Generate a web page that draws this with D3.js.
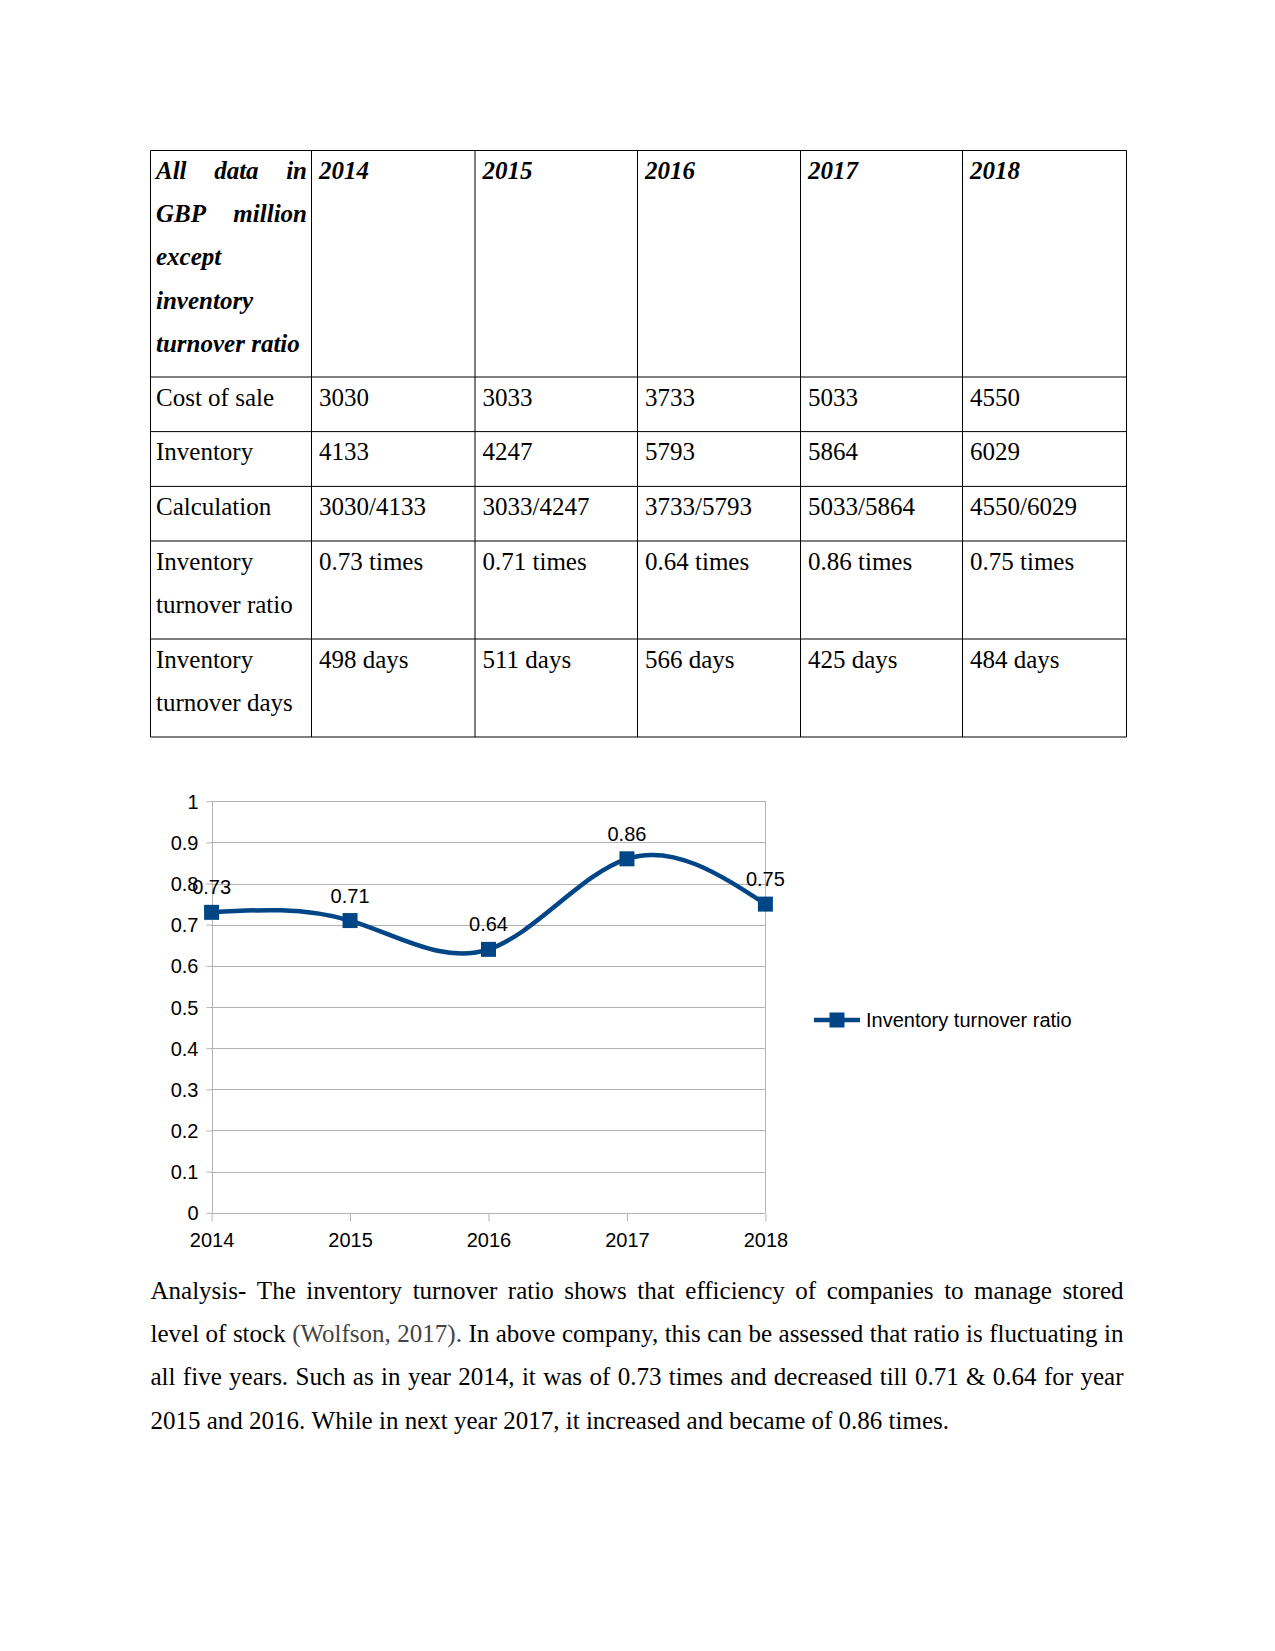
<!DOCTYPE html>
<html><head><meta charset="utf-8">
<script src="https://cdn.jsdelivr.net/npm/d3@7"></script>
<style>html,body{margin:0;padding:0;background:#fff}svg{display:block}</style>
</head><body>
<svg id="page" width="1275" height="1651"></svg>
<script>
const years = ["2014","2015","2016","2017","2018"];
const costOfSale = ["3030","3033","3733","5033","4550"];
const inventory = ["4133","4247","5793","5864","6029"];
const calculation = ["3030/4133","3033/4247","3733/5793","5033/5864","4550/6029"];
const ratioText = ["0.73 times","0.71 times","0.64 times","0.86 times","0.75 times"];
const daysText = ["498 days","511 days","566 days","425 days","484 days"];
const ratio = [0.73, 0.71, 0.64, 0.86, 0.75];
const yTicks = [0,0.1,0.2,0.3,0.4,0.5,0.6,0.7,0.8,0.9,1];
const seriesName = "Inventory turnover ratio";
const headerLines = ["All data in","GBP million","except","inventory","turnover ratio"];
const paragraphLines = [
  "Analysis- The inventory turnover ratio shows that efficiency of companies to manage stored",
  "level of stock (Wolfson, 2017). In above company, this can be assessed that ratio is fluctuating in",
  "all five years. Such as in year 2014, it was of 0.73 times and decreased till 0.71 & 0.64 for year",
  "2015 and 2016. While in next year 2017, it increased and became of 0.86 times."
];

const svg = d3.select("#page");
const serif = "'Liberation Serif','Times New Roman',serif";
const sans = "'Liberation Sans',Arial,sans-serif";

function justify(g, words, x0, width, y, opts) {
  const t = g.append("text").attr("y", y)
    .attr("font-family", serif).attr("font-size", opts.size)
    .attr("font-weight", opts.weight || "normal").attr("font-style", opts.style || "normal")
    .attr("fill", "#000");
  const spans = words.map(w => t.append("tspan").attr("x", x0).attr("y", y).text(w.text).attr("fill", w.color || "#000"));
  const widths = spans.map(s => s.node().getComputedTextLength());
  const total = d3.sum(widths);
  let gap;
  if (opts.justify && words.length > 1) gap = (width - total) / (words.length - 1);
  else gap = opts.size * 0.25;
  let x = x0;
  spans.forEach((s, i) => { s.attr("x", x); x += widths[i] + gap; });
}

// ---------- TABLE ----------
const colX = [150.5, 311.5, 475, 637.5, 800.5, 962.5, 1126.5];
const rowY = [150.5, 377, 431.6, 486.4, 541, 639, 737];
const tg = svg.append("g");
colX.forEach(x => tg.append("line").attr("x1", x).attr("x2", x).attr("y1", rowY[0]).attr("y2", rowY[rowY.length-1]).attr("stroke", "#000").attr("stroke-width", 1));
rowY.forEach(y => tg.append("line").attr("x1", colX[0]).attr("x2", colX[colX.length-1]).attr("y1", y).attr("y2", y).attr("stroke", "#000").attr("stroke-width", 1));

const FS = 25, LH = 43.2, PAD = 5.5, VPAD = 7.5, BASE = 28.5;
headerLines.forEach((ln, i) => {
  const words = ln.split(" ").map(w => ({text: w}));
  justify(tg, words, colX[0] + PAD, colX[1] - colX[0] - 2*PAD + 1, rowY[0] + BASE + i*LH,
    {size: FS, weight: "bold", style: "italic", justify: i < 2});
});
years.forEach((yr, j) => {
  tg.append("text").attr("x", colX[j+1] + VPAD).attr("y", rowY[0] + BASE)
    .attr("font-family", serif).attr("font-size", FS).attr("font-weight", "bold").attr("font-style", "italic").text(yr);
});
const rows = [
  {label: ["Cost of sale"], vals: costOfSale},
  {label: ["Inventory"], vals: inventory},
  {label: ["Calculation"], vals: calculation},
  {label: ["Inventory", "turnover ratio"], vals: ratioText},
  {label: ["Inventory", "turnover days"], vals: daysText}
];
rows.forEach((r, i) => {
  const top = rowY[i+1];
  r.label.forEach((l, k) => tg.append("text").attr("x", colX[0] + PAD).attr("y", top + BASE + k*LH)
    .attr("font-family", serif).attr("font-size", FS).text(l));
  r.vals.forEach((v, j) => tg.append("text").attr("x", colX[j+1] + VPAD).attr("y", top + BASE)
    .attr("font-family", serif).attr("font-size", FS).text(v));
});

// ---------- CHART ----------
const cg = svg.append("g");
const x = d3.scalePoint().domain(years).range([211.6, 765.4]);
const y = d3.scaleLinear().domain([0, 1]).range([1212.8, 801.2]);
const grid = "#b3b3b3";
cg.selectAll(".grid").data(yTicks).join("line")
  .attr("x1", x.range()[0]).attr("x2", x.range()[1])
  .attr("y1", d => Math.round(y(d)) + 0.5).attr("y2", d => Math.round(y(d)) + 0.5)
  .attr("stroke", grid).attr("stroke-width", 1);
[x.range()[0], x.range()[1]].forEach(xx => cg.append("line")
  .attr("x1", Math.round(xx)+0.5).attr("x2", Math.round(xx)+0.5).attr("y1", y(1)).attr("y2", y(0))
  .attr("stroke", grid));
const yAx = d3.axisLeft(y).tickValues(yTicks).tickSize(6).tickPadding(8).tickFormat(d => d3.format("~g")(d));
const yg = cg.append("g").attr("transform", `translate(${Math.round(x.range()[0])+0.5},0)`).call(yAx);
yg.select(".domain").remove();
yg.selectAll(".tick line").attr("stroke", grid);
yg.selectAll(".tick text").attr("font-family", sans).attr("font-size", 20).attr("fill", "#000").attr("dy", "0.35em");
const xAx = d3.axisBottom(x).tickSize(8).tickPadding(8);
const xg = cg.append("g").attr("transform", `translate(0,${Math.round(y(0))+0.5})`).call(xAx);
xg.select(".domain").remove();
xg.selectAll(".tick line").attr("stroke", grid);
xg.selectAll(".tick text").attr("font-family", sans).attr("font-size", 20).attr("fill", "#000").attr("dy", "0.85em");

const blue = "#004586";
const pts = years.map((yr, i) => [x(yr), y(ratio[i])]);
cg.append("path").attr("d", d3.line().curve(d3.curveNatural)(pts))
  .attr("fill", "none").attr("stroke", blue).attr("stroke-width", 4.5);
const ms = 15;
cg.selectAll(".mk").data(pts).join("rect")
  .attr("x", d => d[0] - ms/2).attr("y", d => d[1] - ms/2).attr("width", ms).attr("height", ms).attr("fill", blue);
cg.selectAll(".lbl").data(pts).join("text")
  .attr("x", d => d[0]).attr("y", d => d[1] - 18).attr("text-anchor", "middle")
  .attr("font-family", sans).attr("font-size", 20).attr("fill", "#000")
  .text((d, i) => ratio[i].toFixed(2));
const lg = cg.append("g");
lg.append("line").attr("x1", 814).attr("x2", 860).attr("y1", 1020).attr("y2", 1020).attr("stroke", blue).attr("stroke-width", 4.5);
lg.append("rect").attr("x", 837 - ms/2).attr("y", 1020 - ms/2).attr("width", ms).attr("height", ms).attr("fill", blue);
lg.append("text").attr("x", 866).attr("y", 1020).attr("dy", "0.35em").attr("font-family", sans).attr("font-size", 20).text(seriesName);

// ---------- PARAGRAPH ----------
const pg = svg.append("g");
paragraphLines.forEach((ln, i) => {
  const words = ln.split(" ").map(w => ({text: w, color: /Wolfson|2017\)\./.test(w) && i === 1 ? "#444" : "#000"}));
  justify(pg, words, 150.5, 1123.5 - 150.5, 1299 + i*43.2, {size: FS, justify: i < paragraphLines.length - 1});
});
</script>
</body></html>
